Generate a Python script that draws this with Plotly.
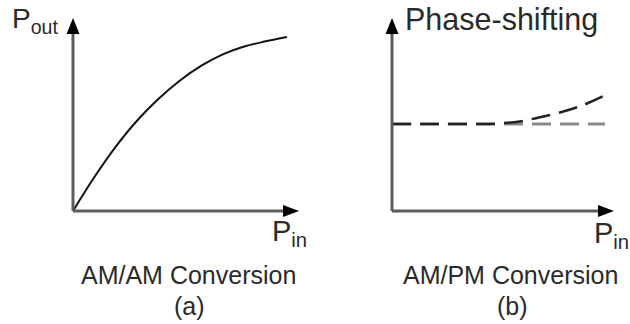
import plotly.graph_objects as go

# ---- data ----
pin_am = [0.0, 0.1, 0.2, 0.3, 0.4, 0.5, 0.6, 0.7, 0.8, 0.9, 1.0]
pout_am = [0.0, 0.195, 0.37, 0.52, 0.645, 0.75, 0.835, 0.9, 0.945, 0.975, 1.0]

pin_pm = [0.0, 0.2, 0.4, 0.5, 0.6, 0.7, 0.8, 0.9, 1.0]
phase_pm = [0.5, 0.5, 0.5, 0.503, 0.515, 0.54, 0.57, 0.61, 0.665]
phase_ref_x = [0.0, 1.0]
phase_ref_y = [0.5, 0.5]

W, H = 630, 324
# pixel calibration of each panel (origin pixel and pixels per unit)
OX1, OX2, OY = 73, 392, 211
UX1, UX2, UY = 214, 213, 174

fig = go.Figure()

fig.add_trace(go.Scatter(x=pin_am, y=pout_am, mode="lines", line=dict(color="#111", width=2, shape="spline"),
                         xaxis="x", yaxis="y", showlegend=False, hoverinfo="skip"))
fig.add_trace(go.Scatter(x=phase_ref_x, y=phase_ref_y, mode="lines",
                         line=dict(color="#8a8a8a", width=3, dash="19px,9px"),
                         xaxis="x2", yaxis="y2", showlegend=False, hoverinfo="skip"))
fig.add_trace(go.Scatter(x=pin_pm, y=phase_pm, mode="lines",
                         line=dict(color="#222", width=2.5, dash="19px,9px", shape="spline"),
                         xaxis="x2", yaxis="y2", showlegend=False, hoverinfo="skip"))


def dx(px, ox, ux):
    return (px - ox) / ux


def dy(py):
    return (OY - py) / UY


shapes = []
for (ox, ux, xr, yr, xtip) in [(OX1, UX1, "x", "y", 299), (OX2, UX2, "x2", "y2", 614)]:
    # vertical axis
    shapes.append(dict(type="line", xref=xr, yref=yr, x0=0, y0=0, x1=0, y1=dy(33),
                       line=dict(color="#5c5c5c", width=3)))
    shapes.append(dict(type="path", xref=xr, yref=yr,
                       path="M {},{} L {},{} L {},{} Z".format(dx(ox - 6.5, ox, ux), dy(34), dx(ox + 6.5, ox, ux), dy(34), 0, dy(18)),
                       fillcolor="#000", line=dict(width=0)))
    # horizontal axis
    shapes.append(dict(type="line", xref=xr, yref=yr, x0=0, y0=0, x1=dx(xtip - 15, ox, ux), y1=0,
                       line=dict(color="#5c5c5c", width=3)))
    shapes.append(dict(type="path", xref=xr, yref=yr,
                       path="M {},{} L {},{} L {},{} Z".format(dx(xtip - 16, ox, ux), dy(OY - 6), dx(xtip - 16, ox, ux), dy(OY + 6), dx(xtip, ox, ux), 0),
                       fillcolor="#000", line=dict(width=0)))

FONT = "Liberation Sans, Arial, sans-serif"
TXT = "#2a2a2a"


def ann(text, x, y, size, xanchor="center"):
    return dict(text=text, x=x / W, y=1 - y / H, xref="paper", yref="paper", showarrow=False,
                xanchor=xanchor, yanchor="middle", font=dict(family=FONT, size=size, color=TXT))


annotations = [
    ann("P<sub>out</sub>", 10, 20, 28, "left"),
    ann("P<sub>in</sub>", 270, 233, 29, "left"),
    ann("P<sub>in</sub>", 592, 235, 29, "left"),
    ann("Phase-shifting", 502, 19, 30.5),
    ann("AM/AM Conversion", 188, 275, 25),
    ann("(a)", 189, 306, 25),
    ann("AM/PM Conversion", 510, 275, 25),
    ann("(b)", 512, 306, 25),
]

ax_common = dict(visible=False, showgrid=False, zeroline=False, fixedrange=True)
fig.update_layout(
    width=W, height=H, autosize=False,
    margin=dict(l=0, r=0, t=0, b=0),
    paper_bgcolor="white", plot_bgcolor="white",
    xaxis=dict(domain=[0, 0.5], range=[dx(0, OX1, UX1), dx(315, OX1, UX1)], anchor="y", **ax_common),
    yaxis=dict(domain=[0, 1], range=[dy(H), dy(0)], anchor="x", **ax_common),
    xaxis2=dict(domain=[0.5, 1], range=[dx(315, OX2, UX2), dx(630, OX2, UX2)], anchor="y2", **ax_common),
    yaxis2=dict(domain=[0, 1], range=[dy(H), dy(0)], anchor="x2", **ax_common),
    shapes=shapes,
    annotations=annotations,
    showlegend=False,
)

fig.write_html("out.html", config={"displayModeBar": False})
